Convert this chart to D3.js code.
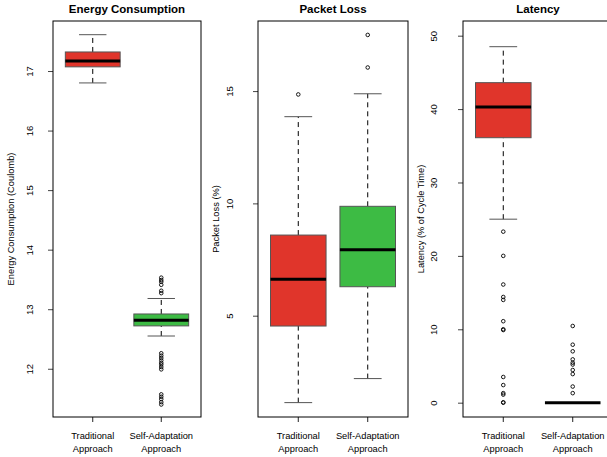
<!DOCTYPE html>
<html>
<head>
<meta charset="utf-8">
<script src="https://cdn.jsdelivr.net/npm/d3@7"></script>
<style>
  body { margin: 0; background: #fff; }
  text { font-family: "Liberation Sans", Arial, sans-serif; fill: #000; }
</style>
</head>
<body>
<div id="chart"></div>
<script>

  // categories on the x axis (two lines each)
  var categories = [["Traditional", "Approach"], ["Self-Adaptation", "Approach"]];
  var boxColors = ["#e0352b", "#3dbb44"];

  // panel titles and y axis titles
  var panelTitles = ["Energy Consumption", "Packet Loss", "Latency"];
  var yTitles = ["Energy Consumption (Coulomb)", "Packet Loss (%)", "Latency (% of Cycle Time)"];
  var yTicks = [[12, 13, 14, 15, 16, 17], [5, 10, 15], [0, 10, 20, 30, 40, 50]];

  // box stats: [lower whisker, q1, median, q3, upper whisker]
  var energyStats = [[16.80, 17.07, 17.17, 17.32, 17.61], [12.55, 12.72, 12.815, 12.92, 13.18]];
  var packetStats = [[1.13, 4.54, 6.62, 8.59, 13.86], [2.2, 6.29, 7.94, 9.87, 14.88]];
  var latencyStats = [[25.0, 36.1, 40.27, 43.6, 48.5], [0, 0, 0, 0, 0]];

  // outliers per category
  var energyOutliers = [[],
    [13.53, 13.49, 13.46, 13.41, 13.31, 13.27,
     12.26, 12.22, 12.18, 12.14, 12.10, 12.07, 12.03, 11.99,
     11.57, 11.53, 11.49, 11.44, 11.40]];
  var packetOutliers = [[14.85], [17.5, 16.05]];
  var latencyOutliers = [
    [23.3, 20.0, 16.1, 14.4, 14.0, 11.1, 10.0, 9.9, 3.5, 2.4, 1.3, 1.1, 0.05, 0],
    [10.45, 7.9, 7.0, 5.9, 5.45, 5.2, 4.45, 3.9, 2.2, 1.3]];

  var width = 607;
  var height = 457;

  var panels = [
    {left: 53, right: 201, domain: [11.19, 17.84], stats: energyStats, outliers: energyOutliers, tickLab: 24, titleOff: 42},
    {left: 258, right: 408, domain: [0.49, 18.12], stats: packetStats, outliers: packetOutliers, tickLab: 29, titleOff: 42},
    {left: 463, right: 613, domain: [-1.95, 52.0], stats: latencyStats, outliers: latencyOutliers, tickLab: 29.5, titleOff: 42}
  ];
  var plotTop = 21, plotBottom = 417;

  var svg = d3.select("#chart")
    .append("svg")
    .attr("width", width)
    .attr("height", height);

  panels.forEach(function(p, k) {
    var xScale = d3.scaleLinear().domain([0.42, 2.58]).range([p.left, p.right]);
    var yScale = d3.scaleLinear().domain(p.domain).range([plotBottom, plotTop]);
    var g = svg.append("g");
    var bw = xScale(1.4) - xScale(1);   // half box width
    var sw = bw / 2;                    // half staple width

    // title
    g.append("text")
      .attr("x", (p.left + p.right) / 2)
      .attr("y", 13)
      .attr("text-anchor", "middle")
      .style("font-size", "11.5px")
      .style("font-weight", "bold")
      .text(panelTitles[k]);

    // y axis
    var yaxis = g.append("g")
      .attr("transform", "translate(" + p.left + ",0)")
      .call(d3.axisLeft(yScale).tickValues(yTicks[k]).tickSize(5).tickFormat(d3.format("d")));
    yaxis.select(".domain").remove();
    yaxis.selectAll(".tick line").attr("stroke", "#444");
    yaxis.selectAll(".tick text")
      .attr("x", null).attr("dy", null)
      .attr("transform", "translate(" + (-p.tickLab) + ",0) rotate(-90)")
      .attr("text-anchor", "middle")
      .attr("dominant-baseline", "central")
      .style("font-family", "Liberation Sans, Arial, sans-serif")
      .style("font-size", "9.5px");

    g.append("text")
      .attr("transform", "translate(" + (p.left - p.titleOff) + "," + ((plotTop + plotBottom) / 2) + ") rotate(-90)")
      .attr("text-anchor", "middle")
      .attr("dominant-baseline", "central")
      .style("font-size", "9.3px")
      .text(yTitles[k]);

    // x axis ticks and labels
    categories.forEach(function(c, i) {
      var cx = xScale(i + 1);
      g.append("line")
        .attr("x1", cx).attr("x2", cx)
        .attr("y1", plotBottom).attr("y2", plotBottom + 5)
        .attr("stroke", "#222");
      c.forEach(function(t, j) {
        g.append("text")
          .attr("x", cx)
          .attr("y", 439 + j * 12.5)
          .attr("text-anchor", "middle")
          .style("font-size", "9.3px")
          .text(t);
      });
    });

    // boxes
    p.stats.forEach(function(s, i) {
      var cx = xScale(i + 1);
      // whiskers
      g.append("line")
        .attr("x1", cx).attr("x2", cx)
        .attr("y1", yScale(s[0])).attr("y2", yScale(s[1]))
        .attr("stroke", "#000").attr("stroke-dasharray", "5,4");
      g.append("line")
        .attr("x1", cx).attr("x2", cx)
        .attr("y1", yScale(s[3])).attr("y2", yScale(s[4]))
        .attr("stroke", "#000").attr("stroke-dasharray", "5,4");
      // staples
      [s[0], s[4]].forEach(function(v) {
        g.append("line")
          .attr("x1", cx - sw).attr("x2", cx + sw)
          .attr("y1", yScale(v)).attr("y2", yScale(v))
          .attr("stroke", "#555");
      });
      g.append("rect")
        .attr("x", cx - bw)
        .attr("y", yScale(s[3]))
        .attr("width", 2 * bw)
        .attr("height", Math.max(yScale(s[1]) - yScale(s[3]), 0))
        .attr("fill", boxColors[i])
        .attr("stroke", "#555");
      g.append("line")
        .attr("x1", cx - bw).attr("x2", cx + bw)
        .attr("y1", yScale(s[2])).attr("y2", yScale(s[2]))
        .attr("stroke", "#000").attr("stroke-width", 3);
    });

    // outliers
    p.outliers.forEach(function(o, i) {
      g.selectAll(null)
        .data(o)
        .enter()
        .append("circle")
        .attr("cx", xScale(i + 1))
        .attr("cy", function(d) { return yScale(d); })
        .attr("r", 1.8)
        .attr("fill", "none")
        .attr("stroke", "#000")
        .attr("stroke-width", 0.9);
    });

    // frame
    g.append("rect")
      .attr("x", p.left).attr("y", plotTop)
      .attr("width", p.right - p.left).attr("height", plotBottom - plotTop)
      .attr("fill", "none").attr("stroke", "#000");
  });

</script>
</body>
</html>
